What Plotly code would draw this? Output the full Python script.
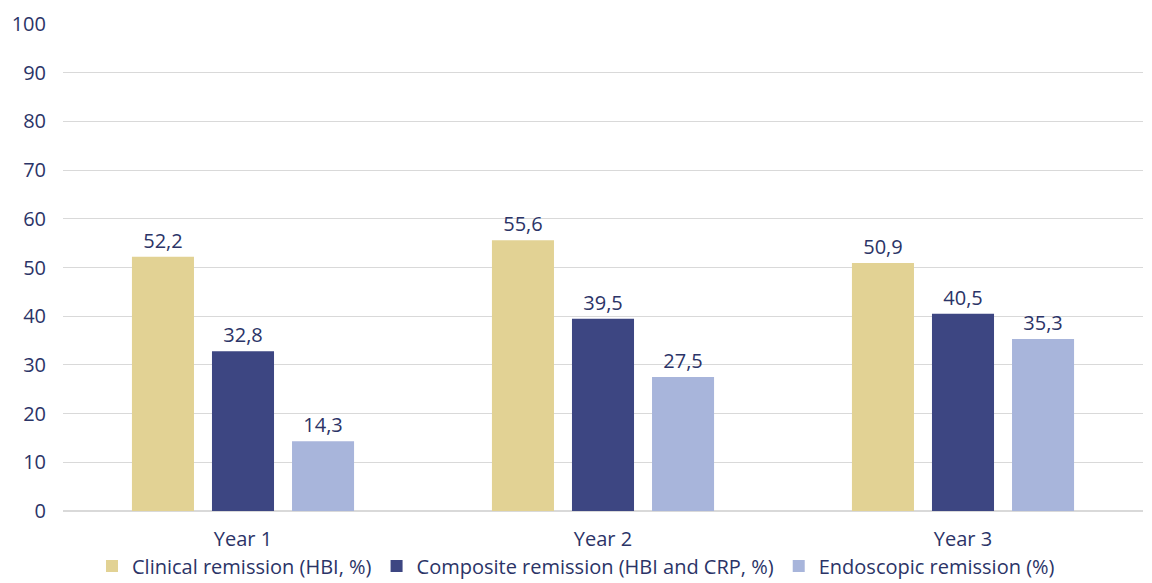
import plotly.graph_objects as go

categories = ["Year 1", "Year 2", "Year 3"]
series_names = ["Clinical remission (HBI, %)", "Composite remission (HBI and CRP, %)", "Endoscopic remission (%)"]
clinical = [52.2, 55.6, 50.9]
composite = [32.8, 39.5, 40.5]
endoscopic = [14.3, 27.5, 35.3]
colors = ["#E2D294", "#3D4682", "#A8B5DB"]
TXT = "#2B3467"
FONT = "Open Sans"
FS = 20

fig = go.Figure()
for name, vals, c in zip(series_names, [clinical, composite, endoscopic], colors):
    fig.add_trace(go.Bar(
        x=categories, y=vals, name=name, marker_color=c, marker_line_width=0,
        text=[f"{v:.1f}".replace(".", ",") for v in vals], textposition="outside",
        textfont=dict(size=FS, color=TXT, family=FONT), cliponaxis=False,
        constraintext="none",
    ))

fig.update_layout(
    width=1152, height=583,
    margin=dict(l=63, r=9, t=24, b=72, autoexpand=False),
    paper_bgcolor="white", plot_bgcolor="white",
    barmode="group", bargap=0.333, bargroupgap=0.225,
    font=dict(family=FONT, color=TXT, size=FS),
    legend=dict(orientation="h", x=0.5, xanchor="center", xref="container",
                y=-0.113, yanchor="middle", yref="paper",
                font=dict(size=FS, color=TXT, family=FONT), itemwidth=30,
                traceorder="normal"),
    showlegend=True,
)
fig.update_yaxes(range=[0, 100], dtick=10, showgrid=True, gridcolor="#D9D9D9", gridwidth=1,
                 zeroline=True, zerolinecolor="#D9D9D9", zerolinewidth=1.5,
                 tickfont=dict(size=FS, color=TXT), ticks="", ticklen=0, ticklabelstandoff=16)
fig.update_xaxes(showline=False, tickfont=dict(size=FS, color=TXT), ticks="", ticklabelstandoff=14)

fig.write_html("out.html")
